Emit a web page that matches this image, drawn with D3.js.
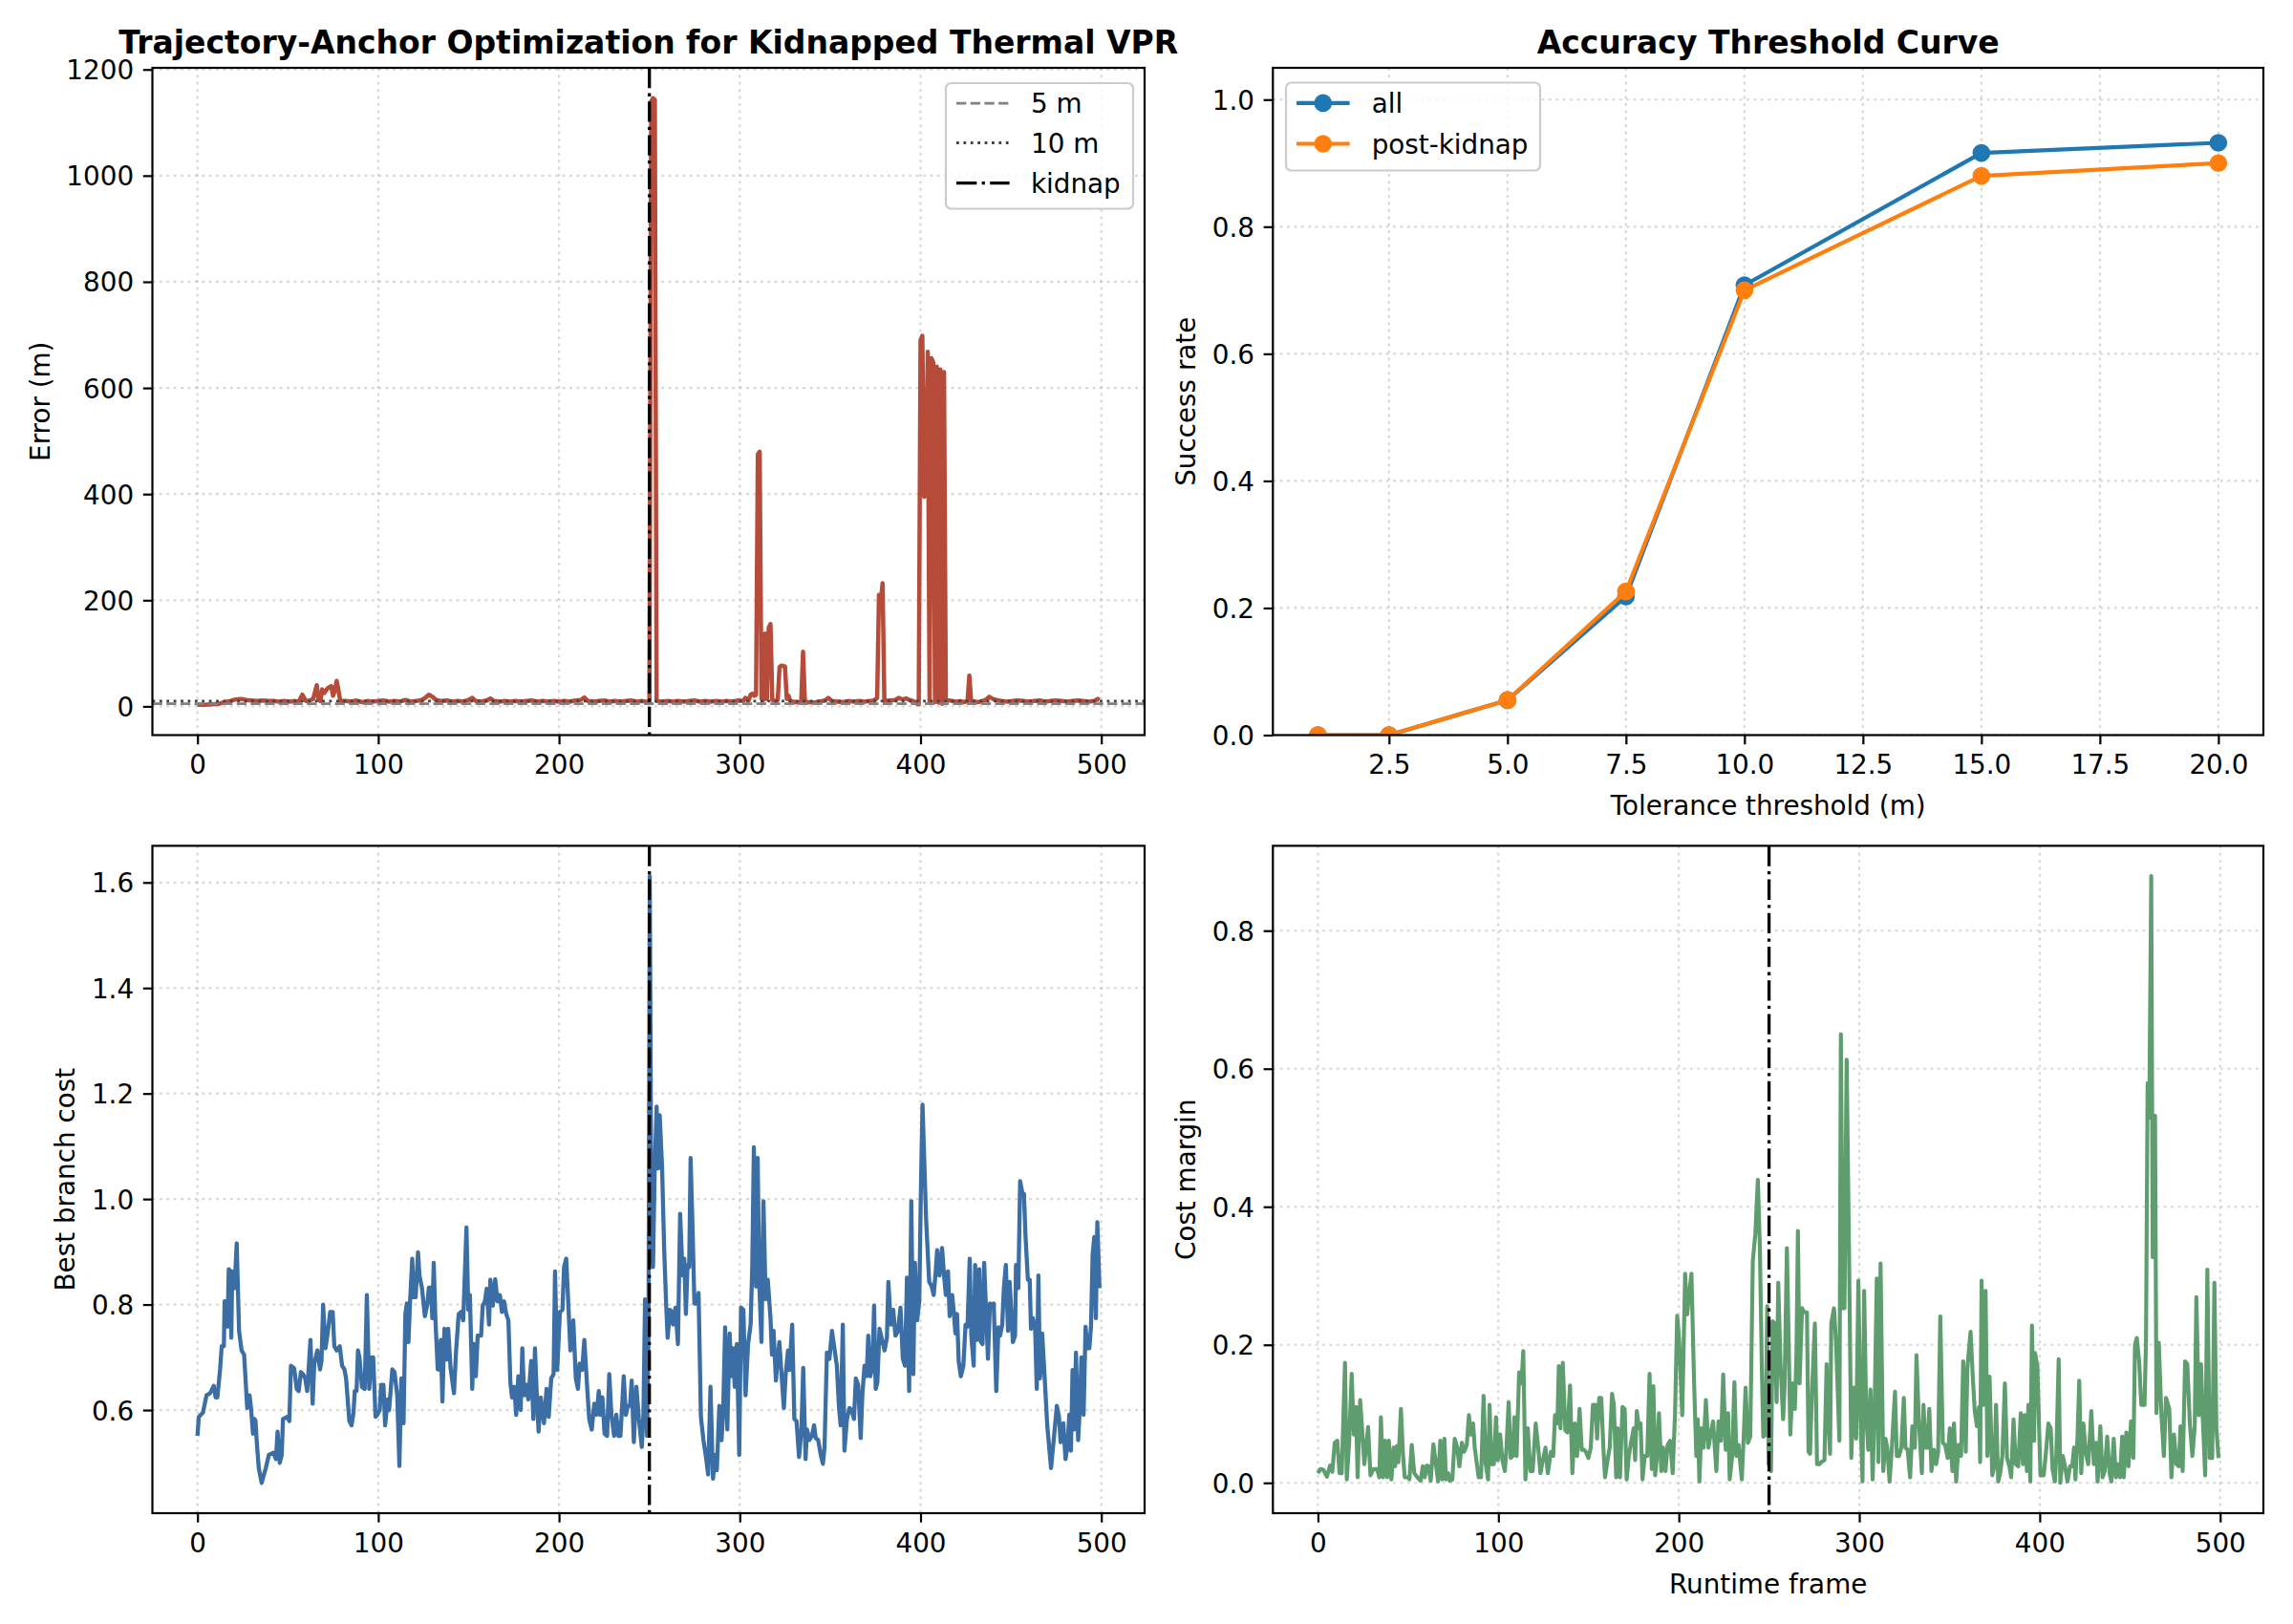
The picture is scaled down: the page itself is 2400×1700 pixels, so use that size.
<!DOCTYPE html>
<html><head><meta charset="utf-8">
<script src="https://cdn.jsdelivr.net/npm/d3@7"></script>
<style>body{margin:0;background:#fff} svg{display:block} text{font-family:"DejaVu Sans",sans-serif}</style>
</head><body><svg id="c" width="2400" height="1700"></svg>
<script>
// ---------------- DATA ----------------
const kidnapFrame = 250;
const frameTicks = [0,100,200,300,400,500];
const errorTicks = [0,200,400,600,800,1000,1200];
const costTicks = [0.6,0.8,1.0,1.2,1.4,1.6];
const marginTicks = [0.0,0.2,0.4,0.6,0.8];
const toleranceTicks = [2.5,5.0,7.5,10.0,12.5,15.0,17.5,20.0];
const successTicks = [0.0,0.2,0.4,0.6,0.8,1.0];
const thresholdLines = [5,10];

// Localization error (m) per frame: [frame, error]
const errorSeries = [[0,3],[4,3],[8,4],[12,5],[15,8],[18,10],[21,13],[24,14],[27,12],[30,11],[33,10],[36,11],[39,10],[42,10],[45,9],[48,10],[51,9],[54,10],[56,9],[58,22],[60,10],[62,11],[64,14],[66,40],[67,12],[68,10],[69,32],[70,25],[72,34],[74,38],[75,20],[76,30],[77,48],[78,30],[79,10],[82,10],[85,9],[88,11],[91,8],[94,10],[97,9],[100,10],[103,11],[106,9],[109,10],[112,9],[115,12],[118,9],[121,10],[124,12],[126,16],[128,22],[130,18],[132,12],[135,10],[138,11],[141,9],[144,10],[147,9],[150,12],[152,16],[154,10],[157,9],[160,11],[162,15],[164,10],[167,9],[170,10],[173,9],[176,10],[179,9],[182,10],[185,11],[188,9],[191,10],[194,9],[197,10],[200,9],[203,10],[206,9],[209,11],[212,12],[214,17],[216,10],[219,9],[222,10],[225,11],[228,9],[231,10],[234,9],[237,10],[240,11],[243,9],[246,10],[248,9],[250,8],[251,1140],[252,1146],[253,1143],[254,10],[257,9],[260,10],[263,9],[266,10],[269,9],[272,10],[275,11],[278,9],[281,10],[284,9],[287,10],[290,9],[293,10],[296,9],[299,11],[302,10],[303,16],[305,12],[306,22],[307,24],[308,20],[309,22],[310,475],[311,480],[312,15],[313,12],[314,137],[315,14],[316,148],[317,155],[318,12],[320,10],[321,12],[322,74],[323,77],[324,76],[325,75],[326,14],[327,20],[328,10],[331,8],[333,7],[334,10],[335,103],[336,9],[338,8],[341,7],[344,9],[347,11],[349,16],[351,10],[354,9],[357,8],[360,10],[363,9],[366,10],[369,9],[372,10],[374,11],[375,13],[376,16],[377,210],[378,196],[379,232],[380,10],[383,11],[386,12],[388,16],[390,13],[392,15],[394,12],[396,10],[398,5],[399,4],[400,690],[401,698],[402,395],[403,400],[404,668],[405,6],[406,656],[407,648],[408,8],[409,640],[410,7],[411,635],[412,5],[413,630],[414,12],[416,11],[418,10],[420,9],[422,10],[424,8],[426,10],[427,58],[428,10],[430,9],[432,8],[434,10],[436,12],[438,18],[440,14],[442,12],[445,10],[448,9],[451,10],[454,11],[457,10],[460,9],[463,10],[466,11],[469,9],[472,10],[475,11],[478,10],[481,9],[484,10],[487,11],[490,10],[493,9],[496,10],[498,14],[499,12]];

// Accuracy threshold curve
const tolerance = [1, 2.5, 5, 7.5, 10, 15, 20];
const successAll = [0.0, 0.0, 0.055, 0.218, 0.708, 0.916, 0.932];
const successPost = [0.0, 0.0, 0.055, 0.226, 0.700, 0.880, 0.900];

// Best branch cost per frame: [frame, cost]
const branchCost = [[0,0.551],[0.7,0.587],[3,0.595],[5,0.628],[7,0.632],[9,0.646],[10,0.624],[11,0.624],[12.5,0.677],[13.4,0.721],[14.6,0.721],[15,0.806],[16,0.806],[16.6,0.758],[17.3,0.867],[18.1,0.863],[18.7,0.737],[19.2,0.863],[20.5,0.831],[21.7,0.916],[23,0.75],[24.4,0.713],[25.8,0.705],[27.5,0.604],[28.8,0.628],[29.6,0.604],[30.7,0.555],[31.6,0.583],[32.1,0.579],[32.8,0.539],[33.9,0.49],[35.5,0.462],[37.8,0.49],[39.5,0.515],[42,0.519],[43.4,0.507],[44.3,0.559],[45.5,0.5],[46.6,0.515],[47.3,0.583],[49.6,0.587],[50.8,0.579],[51.7,0.684],[53.5,0.679],[54.9,0.64],[56,0.636],[57.2,0.672],[58.4,0.668],[59.6,0.66],[60.7,0.636],[62.5,0.733],[63.7,0.612],[64.6,0.688],[66.3,0.713],[67.8,0.677],[68.6,0.693],[69.5,0.8],[70.8,0.717],[72,0.745],[73.4,0.786],[74.8,0.786],[75.7,0.721],[77,0.713],[78.7,0.721],[80,0.684],[81.3,0.677],[82.2,0.66],[84,0.579],[85.2,0.571],[86.3,0.595],[87,0.636],[88,0.636],[88.8,0.713],[89.6,0.7],[91,0.644],[92.5,0.64],[93.7,0.818],[95,0.64],[96.3,0.7],[97.2,0.7],[98.5,0.587],[99.5,0.591],[100.8,0.6],[101.6,0.648],[102.9,0.648],[103.8,0.571],[105.2,0.62],[106,0.6],[107.8,0.677],[109,0.672],[110.5,0.628],[111.7,0.494],[112.8,0.66],[114,0.575],[115,0.782],[115.8,0.802],[116.7,0.729],[117.5,0.798],[118.8,0.887],[119.6,0.814],[120.7,0.814],[122,0.899],[122.8,0.855],[124.2,0.831],[125.8,0.778],[127.2,0.802],[128,0.832],[129.2,0.832],[129.9,0.774],[130.7,0.879],[131.6,0.774],[132.9,0.677],[133.8,0.677],[134.6,0.733],[135.5,0.616],[136.6,0.754],[137.8,0.696],[138.7,0.754],[140,0.68],[141.9,0.632],[143,0.709],[144.5,0.782],[145.8,0.786],[147,0.77],[148.8,0.946],[149.8,0.79],[150.7,0.818],[152,0.64],[152.8,0.725],[154,0.664],[155,0.741],[156.9,0.741],[157.8,0.798],[159,0.806],[160,0.83],[161.3,0.762],[162,0.847],[163.4,0.798],[164.7,0.848],[166,0.806],[167.3,0.818],[168.4,0.786],[169.6,0.806],[170.8,0.782],[172,0.77],[173.1,0.652],[174,0.624],[175.3,0.644],[176.3,0.591],[177.5,0.664],[178.8,0.6],[179.7,0.717],[180.7,0.628],[182,0.648],[183,0.62],[184.6,0.693],[185.8,0.583],[186.7,0.717],[187.8,0.62],[188.7,0.559],[189.9,0.624],[191.7,0.575],[193.1,0.64],[194.3,0.587],[195.7,0.66],[197,0.668],[197.8,0.863],[199,0.676],[200.5,0.786],[201.9,0.79],[202.8,0.871],[204,0.887],[205.4,0.782],[206.3,0.713],[207.9,0.77],[209.3,0.66],[210.5,0.64],[211.4,0.688],[212.8,0.676],[214,0.733],[215.5,0.648],[216.7,0.583],[218.1,0.563],[219.5,0.612],[220.8,0.591],[222,0.636],[222.9,0.591],[224,0.624],[225.2,0.555],[226.6,0.551],[227.8,0.668],[229,0.591],[230.5,0.551],[231.7,0.591],[232.8,0.551],[234,0.551],[235.8,0.664],[237,0.591],[238.1,0.608],[239.3,0.608],[240.2,0.656],[241.4,0.539],[242.8,0.644],[244.2,0.583],[245.8,0.53],[246.7,0.591],[247.6,0.81],[248.7,0.551],[249.5,0.741],[250.2,1.612],[251.1,0.952],[252,0.871],[252.9,1.05],[254,1.175],[254.8,1.058],[255.7,1.159],[257,1.062],[258.2,0.903],[259.3,0.798],[260.1,0.737],[261.4,0.79],[262.3,0.786],[263.1,0.762],[264.4,0.794],[265.8,0.725],[267,0.972],[268.4,0.855],[269.3,0.887],[270.2,0.782],[271.1,0.875],[272,0.871],[272.8,1.078],[274,0.928],[274.9,0.802],[276.4,0.802],[277.2,0.822],[278.5,0.587],[279.9,0.543],[281.3,0.511],[282.5,0.478],[283.8,0.644],[285.2,0.47],[286.4,0.515],[287.3,0.486],[288.7,0.608],[289.9,0.543],[290.8,0.595],[291.9,0.757],[293.1,0.563],[294.4,0.745],[295.4,0.664],[296.3,0.717],[297.2,0.644],[298.4,0.725],[299.7,0.515],[300.7,0.794],[302,0.79],[303.2,0.628],[304.6,0.725],[306,0.762],[306.9,0.871],[307.8,1.098],[309,0.834],[309.9,1.078],[310.8,0.839],[312,0.729],[313.1,0.996],[314.3,0.81],[315.5,0.847],[317,0.774],[317.8,0.705],[318.7,0.75],[320,0.656],[321,0.697],[321.9,0.729],[323.1,0.668],[324.4,0.604],[325.4,0.668],[326.7,0.713],[327.5,0.676],[329,0.762],[330.2,0.583],[331.4,0.579],[332.8,0.511],[334.1,0.563],[335.1,0.68],[336.4,0.507],[337.2,0.563],[338.5,0.543],[339.9,0.551],[341.1,0.571],[342,0.547],[343.4,0.543],[344.8,0.515],[346,0.498],[346.9,0.53],[348.2,0.709],[349.6,0.697],[351,0.75],[352.2,0.721],[353.7,0.684],[354.9,0.604],[355.8,0.571],[357,0.762],[357.9,0.523],[359.3,0.583],[360.7,0.604],[361.9,0.6],[363.2,0.583],[364.2,0.66],[365.5,0.648],[366.9,0.547],[367.8,0.628],[369,0.684],[370.2,0.664],[371.1,0.741],[372.2,0.664],[373.4,0.68],[374.3,0.798],[375.2,0.64],[376.1,0.652],[377.3,0.754],[378.7,0.733],[380.1,0.713],[381.4,0.737],[382.2,0.843],[383.6,0.762],[384.9,0.79],[386.1,0.741],[387.5,0.75],[388.9,0.794],[390.2,0.697],[391.4,0.684],[392.5,0.851],[393.7,0.636],[394.9,0.996],[396,0.668],[396.9,0.879],[398.1,0.77],[399.3,0.806],[400.2,1.017],[401.1,1.179],[403.1,0.96],[404.8,0.843],[406.1,0.835],[407.3,0.818],[408.4,0.863],[409.2,0.903],[410.5,0.855],[411.9,0.907],[413.1,0.851],[414,0.818],[415.2,0.863],[416.1,0.778],[417.5,0.818],[418.4,0.786],[419.3,0.745],[420.2,0.782],[421.1,0.693],[422.3,0.664],[423.7,0.684],[424.9,0.762],[426,0.758],[427.2,0.887],[428.1,0.741],[429.4,0.684],[430.2,0.875],[431.3,0.733],[432.5,0.867],[433.4,0.729],[434.3,0.725],[435.2,0.879],[436.4,0.774],[437.3,0.697],[438.4,0.802],[439.6,0.798],[440.5,0.802],[441.9,0.636],[443.1,0.757],[444,0.741],[445.2,0.762],[446.1,0.831],[447.2,0.875],[448.4,0.75],[449.3,0.843],[451.1,0.729],[452.3,0.741],[452.8,0.875],[454.1,0.831],[455.1,1.034],[456.4,1.01],[457.2,1.01],[458.1,0.928],[459.4,0.847],[460.4,0.847],[461.1,0.754],[462.2,0.774],[463.4,0.754],[464.3,0.64],[465.2,0.855],[466.1,0.66],[467.3,0.745],[468.7,0.66],[470.1,0.571],[472.2,0.49],[474,0.555],[475.4,0.608],[476.6,0.587],[477.5,0.539],[479,0.575],[480.2,0.507],[481.4,0.535],[482.3,0.591],[483.2,0.523],[484.1,0.676],[485,0.563],[486,0.709],[487.2,0.543],[488.1,0.604],[489,0.7],[490.2,0.591],[491.3,0.758],[492.2,0.717],[493.4,0.717],[494.3,0.758],[495.2,0.895],[496.1,0.928],[497,0.774],[497.8,0.956],[499,0.831]];

// Cost margin per frame: [frame, margin]
const costMargin = [[0,0.014],[1.4,0.02],[3,0.019],[5,0.009],[6.7,0.025],[8,0.016],[9.3,0.058],[10.7,0.061],[12,0.014],[13.2,0.014],[15,0.174],[16,0.005],[17.3,0.058],[18.7,0.158],[19.9,0.07],[21.1,0.11],[22,0.008],[23.4,0.12],[24.7,0.07],[25.7,0.027],[27,0.058],[27.8,0.081],[29.1,0.011],[30.8,0.02],[32.8,0.02],[34,0.008],[34.9,0.095],[36.1,0.008],[37.2,0.061],[38.4,0.008],[39.3,0.061],[40.7,0.005],[42,0.051],[42.8,0.024],[43.7,0.053],[44.6,0.03],[46,0.107],[47.2,0.039],[48.1,0.008],[49.9,0.008],[50.7,0.005],[52,0.055],[53.4,0.014],[55.1,0.008],[56.9,0.003],[58.1,0.024],[59.2,0.008],[60.4,0.025],[61.3,0.024],[62.5,0.003],[64,0.056],[65.4,0.027],[66.6,0.002],[67.8,0.061],[68.9,0.005],[70.1,0.064],[71,0.005],[72.2,0.014],[73.1,0.003],[74.5,0.005],[75.8,0.064],[77.2,0.051],[78.4,0.024],[79.8,0.058],[81,0.045],[82.5,0.055],[83.7,0.098],[84.7,0.07],[86,0.086],[86.9,0.051],[88.1,0.027],[89.1,0.008],[90.4,0.008],[91.8,0.126],[93,0.027],[94.3,0.005],[95.1,0.113],[96.2,0.027],[97.5,0.027],[98.7,0.095],[99.7,0.033],[101,0.07],[102.2,0.033],[103.6,0.017],[104.5,0.051],[105.7,0.117],[106.8,0.036],[108,0.039],[108.9,0.095],[110.1,0.039],[111.5,0.16],[112.8,0.144],[113.8,0.191],[115,0.005],[116.3,0.079],[117.7,0.017],[119,0.017],[120.7,0.086],[122.1,0.051],[123.3,0.014],[124.7,0.033],[126.1,0.051],[127.4,0.014],[129.1,0.045],[130.4,0.039],[131.4,0.098],[132.7,0.086],[133.5,0.169],[134.4,0.079],[135.7,0.174],[137.1,0.076],[138.3,0.073],[139.7,0.141],[141,0.014],[142.4,0.086],[143.6,0.039],[145,0.107],[146.2,0.048],[147.3,0.048],[148.5,0.045],[149.9,0.036],[151.2,0.051],[152.4,0.113],[153.8,0.113],[154.7,0.064],[155.9,0.123],[157,0.123],[158.2,0.051],[159.1,0.008],[160.5,0.033],[161.7,0.051],[163,0.129],[164,0.113],[165.3,0.008],[166.1,0.079],[167.4,0.008],[168.8,0.11],[170,0.107],[171.1,0.005],[172.3,0.039],[173.5,0.058],[175,0.079],[175.8,0.033],[176.7,0.104],[178,0.079],[178.8,0.086],[179.9,0.005],[181.1,0.039],[182.5,0.039],[183.8,0.158],[185,0.02],[185.9,0.14],[186.9,0.011],[187.8,0.036],[189,0.101],[190.3,0.017],[191.3,0.051],[192.6,0.017],[193.8,0.055],[195.2,0.061],[196.6,0.014],[197.9,0.101],[199.1,0.242],[200.2,0.206],[201.9,0.098],[203.5,0.303],[204.6,0.244],[205.8,0.275],[207,0.303],[208.4,0.151],[209.7,0.039],[210.5,0.092],[211.4,0.002],[212.5,0.079],[213.7,0.051],[215,0.12],[216.4,0.051],[217.6,0.07],[219,0.089],[220.8,0.017],[222,0.089],[223.4,0.061],[224.6,0.157],[226,0.048],[227.3,0.101],[228.2,0.005],[229.6,0.039],[230.8,0.146],[231.9,0.039],[233.1,0.055],[234.9,0.005],[236.1,0.076],[237,0.138],[238.3,0.058],[239.6,0.067],[241,0.321],[242.4,0.361],[243.8,0.439],[244.9,0.343],[246,0.169],[246.8,0.067],[248.1,0.07],[249,0.256],[249.8,0.027],[251.1,0.017],[252,0.234],[253,0.231],[254.2,0.117],[255.1,0.29],[256.4,0.169],[257.8,0.092],[258.6,0.138],[259.9,0.34],[261,0.188],[261.8,0.07],[263,0.144],[264.3,0.107],[265.2,0.188],[266,0.365],[266.9,0.144],[268.3,0.253],[269.6,0.247],[271,0.247],[271.9,0.045],[272.7,0.042],[273.9,0.138],[275.4,0.231],[276.6,0.027],[278,0.027],[278.9,0.03],[280.7,0.033],[281.9,0.172],[282.8,0.098],[283.8,0.042],[284.5,0.231],[286,0.253],[287.2,0.2],[289,0.061],[289.8,0.65],[290.9,0.253],[291.8,0.253],[293,0.613],[294.4,0.318],[295.6,0.036],[296.9,0.138],[298.3,0.064],[299.5,0.293],[300.6,0.107],[301.8,0.002],[302.7,0.278],[303.9,0.095],[305,0.048],[306.2,0.135],[307.4,0.005],[308.5,0.107],[309.7,0.296],[310.6,0.03],[311.8,0.318],[313.3,0.017],[314.5,0.064],[315.5,0.051],[316.8,0.002],[318,0.048],[319.8,0.132],[320.8,0.039],[322,0.039],[323.3,0.051],[324.7,0.123],[325.6,0.051],[326.8,0.048],[328.2,0.008],[329.4,0.082],[330.8,0.051],[331.7,0.185],[333,0.092],[334.7,0.014],[335.6,0.113],[336.7,0.051],[337.7,0.051],[338.8,0.107],[340,0.017],[341.4,0.048],[342.6,0.027],[343.7,0.045],[344.9,0.241],[346.3,0.058],[347.6,0.055],[349,0.036],[350.2,0.079],[351.6,0.017],[352.5,0.086],[353.7,0.002],[355,0.055],[356.4,0.039],[357.6,0.176],[359,0.045],[359.9,0.166],[361.7,0.219],[362.9,0.154],[364,0.104],[365.2,0.082],[366.4,0.11],[367,0.03],[367.8,0.293],[368.7,0.113],[370,0.278],[371,0.039],[372.2,0.154],[373.7,0.011],[374.9,0.024],[375.8,0.113],[377,0.002],[378.1,0.014],[379.3,0.039],[380.7,0.144],[381.9,0.036],[383.2,0.024],[384.2,0.008],[385.5,0.092],[386.7,0.027],[388.1,0.024],[389.5,0.101],[390.7,0.027],[391.6,0.098],[392.9,0.017],[393.7,0.113],[394.8,0.002],[395.7,0.228],[396.9,0.061],[397.4,0.188],[398.7,0.169],[400.4,0.011],[402.2,0.011],[403.6,0.048],[404.8,0.086],[406.1,0.079],[407.1,0.02],[408.4,0.002],[409.2,0.039],[410.5,0.179],[411.4,0.0],[412.8,0.039],[414,0.024],[415.4,0.002],[416.8,0.024],[418,0.024],[419,0.051],[419.8,0.005],[421,0.07],[421.9,0.148],[423,0.014],[424.2,0.086],[425.6,0.042],[426.9,0.027],[428.6,0.104],[430,0.027],[431.3,0.058],[432.1,0.002],[433.6,0.082],[434.8,0.008],[436,0.017],[437.4,0.067],[438.7,0.014],[439.7,0.002],[441,0.064],[442.2,0.008],[443.3,0.027],[444.5,0.008],[445.7,0.067],[446.6,0.008],[448,0.073],[449.2,0.024],[450.6,0.089],[451.9,0.036],[452.8,0.2],[453.8,0.21],[455.1,0.176],[456.3,0.113],[458.1,0.113],[458.9,0.206],[459.8,0.579],[460.7,0.529],[461.8,0.879],[462.6,0.327],[463.9,0.532],[464.7,0.101],[466,0.203],[467.4,0.101],[468.8,0.039],[470,0.123],[471.8,0.107],[473,0.008],[474.4,0.07],[475.8,0.027],[477.1,0.024],[478,0.082],[479.2,0.017],[480.6,0.176],[481.8,0.172],[483.2,0.086],[484.6,0.039],[485.9,0.082],[486.8,0.269],[488.2,0.098],[489.4,0.172],[490.3,0.098],[491.7,0.011],[492.9,0.309],[494.2,0.036],[495.6,0.036],[496.8,0.29],[497.9,0.079],[499.1,0.036]];

// ---------------- DRAWING ----------------
const svg = d3.select('#c');
const FS = 27.8;            // 10pt at 200 dpi
const TICK = 9.7, PAD = 9.7;
const SPINE = 2.2;

const boxes = {
  tl: {x0:159.5, x1:1198, y0:71, y1:769.5},
  tr: {x0:1332.3, x1:2369, y0:71, y1:769.5},
  bl: {x0:159.5, x1:1198, y0:885.4, y1:1584},
  br: {x0:1332.3, x1:2369, y0:885.4, y1:1584}
};

// matplotlib-style 5% autoscale margins
function padded(vals) {
  const [lo, hi] = d3.extent(vals);
  const m = (hi - lo) * 0.05;
  return [lo - m, hi + m];
}

function makePanel(id, box, xd, yd, xt, yt) {
  const x = d3.scaleLinear().domain(xd).range([box.x0, box.x1]);
  const y = d3.scaleLinear().domain(yd).range([box.y1, box.y0]);
  const g = svg.append('g').attr('id', id);
  g.append('clipPath').attr('id', id + 'clip').append('rect')
    .attr('x', box.x0).attr('y', box.y0).attr('width', box.x1 - box.x0).attr('height', box.y1 - box.y0);
  const grid = g.append('g').attr('stroke', '#b0b0b0').attr('stroke-opacity', 0.5)
    .attr('stroke-width', 2.2).attr('stroke-dasharray', '2.8,4.6').attr('fill', 'none');
  xt.forEach(v => grid.append('line').attr('x1', x(v)).attr('x2', x(v)).attr('y1', box.y0).attr('y2', box.y1));
  yt.forEach(v => grid.append('line').attr('y1', y(v)).attr('y2', y(v)).attr('x1', box.x0).attr('x2', box.x1));
  const plot = g.append('g').attr('clip-path', `url(#${id}clip)`);
  return {x, y, g, plot, box, xt, yt};
}

function finish(p, xf, yf) {
  const b = p.box;
  const xa = d3.axisBottom(p.x).tickValues(p.xt).tickFormat(xf).tickSize(TICK).tickPadding(PAD).tickSizeOuter(0);
  const ya = d3.axisLeft(p.y).tickValues(p.yt).tickFormat(yf).tickSize(TICK).tickPadding(PAD).tickSizeOuter(0);
  const gx = p.g.append('g').attr('transform', `translate(0,${b.y1})`).call(xa);
  const gy = p.g.append('g').attr('transform', `translate(${b.x0},0)`).call(ya);
  [gx, gy].forEach(a => {
    a.select('.domain').remove();
    a.attr('font-family', '"DejaVu Sans", sans-serif').attr('font-size', FS);
    a.selectAll('line').attr('stroke', '#000').attr('stroke-width', SPINE);
    a.selectAll('text').attr('fill', '#000');
  });
  gx.selectAll('text').attr('dy', '0.76em');
  gy.selectAll('text').attr('dy', '0.36em');
  p.g.append('rect').attr('x', b.x0).attr('y', b.y0).attr('width', b.x1 - b.x0).attr('height', b.y1 - b.y0)
    .attr('fill', 'none').attr('stroke', '#000').attr('stroke-width', SPINE);
}

function ylabel(text, x, box) {
  const cy = (box.y0 + box.y1) / 2;
  svg.append('text').attr('transform', `translate(${x},${cy}) rotate(-90)`)
    .attr('text-anchor', 'middle').attr('font-size', FS).attr('fill', '#000').text(text);
}
function xlabel(text, y, box) {
  svg.append('text').attr('x', (box.x0 + box.x1) / 2).attr('y', y)
    .attr('text-anchor', 'middle').attr('font-size', FS).attr('fill', '#000').text(text);
}
function title(text, box) {
  svg.append('text').attr('x', (box.x0 + box.x1) / 2).attr('y', 55.5)
    .attr('text-anchor', 'middle').attr('font-size', 33).attr('font-weight', 'bold').attr('fill', '#000').text(text);
}

function kidnapLine(p) {
  p.plot.append('line').attr('x1', p.x(kidnapFrame)).attr('x2', p.x(kidnapFrame))
    .attr('y1', p.box.y0).attr('y2', p.box.y1)
    .attr('stroke', '#000').attr('stroke-width', 3.3).attr('stroke-dasharray', '21.3,5.3,3.3,5.3');
}

const frameDomain = [-24.95, 523.95];

// ---- Top-left: error
const pTL = makePanel('tl', boxes.tl, frameDomain, padded(errorSeries.map(d => d[1])), frameTicks, errorTicks);
pTL.plot.append('path').datum(errorSeries)
  .attr('d', d3.line().x(d => pTL.x(d[0])).y(d => pTL.y(d[1])))
  .attr('fill', 'none').attr('stroke', '#b64b3a').attr('stroke-width', 4.5).attr('stroke-linejoin', 'round');
const thrStyles = [{c:'#808080', dash:'10.3,4.4'}, {c:'#444444', dash:'2.8,4.6'}];
thresholdLines.forEach((t, i) => {
  pTL.plot.append('line').attr('x1', pTL.box.x0).attr('x2', pTL.box.x1).attr('y1', pTL.y(t)).attr('y2', pTL.y(t))
    .attr('stroke', thrStyles[i].c).attr('stroke-width', 2.78).attr('stroke-dasharray', thrStyles[i].dash);
});
kidnapLine(pTL);
finish(pTL, d3.format('d'), d3.format('d'));
title('Trajectory-Anchor Optimization for Kidnapped Thermal VPR', boxes.tl);
ylabel('Error (m)', 51.7, boxes.tl);

// legend TL
{
  const lg = svg.append('g');
  lg.append('rect').attr('x', 990).attr('y', 87).attr('width', 196).attr('height', 131.5).attr('rx', 5.6)
    .attr('fill', '#fff').attr('fill-opacity', 0.8).attr('stroke', '#cccccc').attr('stroke-width', 2.2);
  const items = [
    {label: '5 m', c: '#808080', w: 2.78, dash: '10.3,4.4', y: 108.2},
    {label: '10 m', c: '#444444', w: 2.78, dash: '2.8,4.6', y: 149.5},
    {label: 'kidnap', c: '#000', w: 3.3, dash: '21.3,5.3,3.3,5.3', y: 191.7}
  ];
  items.forEach(it => {
    lg.append('line').attr('x1', 1001).attr('x2', 1056.6).attr('y1', it.y).attr('y2', it.y)
      .attr('stroke', it.c).attr('stroke-width', it.w).attr('stroke-dasharray', it.dash);
    lg.append('text').attr('x', 1079).attr('y', it.y).attr('dy', '0.36em').attr('font-size', FS).text(it.label);
  });
}

// ---- Top-right: accuracy threshold curve
const pTR = makePanel('tr', boxes.tr, [0.05, 20.95], [0, 1.05], toleranceTicks, successTicks);
const curves = [{vals: successAll, c: '#1f77b4', name: 'all'}, {vals: successPost, c: '#ff7f0e', name: 'post-kidnap'}];
const MR = 8;
curves.forEach(cv => {
  const pts = tolerance.map((t, i) => [t, cv.vals[i]]);
  pTR.plot.append('path').datum(pts)
    .attr('d', d3.line().x(d => pTR.x(d[0])).y(d => pTR.y(d[1])))
    .attr('fill', 'none').attr('stroke', cv.c).attr('stroke-width', 4.17).attr('stroke-linejoin', 'round');
  pTR.plot.selectAll(null).data(pts).enter().append('circle')
    .attr('cx', d => pTR.x(d[0])).attr('cy', d => pTR.y(d[1])).attr('r', MR)
    .attr('fill', cv.c).attr('stroke', cv.c).attr('stroke-width', 2.6);
});
finish(pTR, d3.format('.1f'), d3.format('.1f'));
title('Accuracy Threshold Curve', boxes.tr);
ylabel('Success rate', 1251, boxes.tr);
xlabel('Tolerance threshold (m)', 853.4, boxes.tr);
{
  const lg = svg.append('g');
  lg.append('rect').attr('x', 1346).attr('y', 86.5).attr('width', 266).attr('height', 92).attr('rx', 5.6)
    .attr('fill', '#fff').attr('fill-opacity', 0.8).attr('stroke', '#cccccc').attr('stroke-width', 2.2);
  const ys = [107.9, 150.5];
  curves.forEach((cv, i) => {
    lg.append('line').attr('x1', 1357).attr('x2', 1412.6).attr('y1', ys[i]).attr('y2', ys[i])
      .attr('stroke', cv.c).attr('stroke-width', 4.17);
    lg.append('circle').attr('cx', 1384.8).attr('cy', ys[i]).attr('r', MR).attr('fill', cv.c)
      .attr('stroke', cv.c).attr('stroke-width', 2.6);
    lg.append('text').attr('x', 1435.7).attr('y', ys[i]).attr('dy', '0.36em').attr('font-size', FS).text(cv.name);
  });
}

// ---- Bottom-left: best branch cost
const pBL = makePanel('bl', boxes.bl, frameDomain, padded(branchCost.map(d => d[1])), frameTicks, costTicks);
pBL.plot.append('path').datum(branchCost)
  .attr('d', d3.line().x(d => pBL.x(d[0])).y(d => pBL.y(d[1])))
  .attr('fill', 'none').attr('stroke', '#3a6ea5').attr('stroke-width', 4.3).attr('stroke-linejoin', 'round');
kidnapLine(pBL);
finish(pBL, d3.format('d'), d3.format('.1f'));
ylabel('Best branch cost', 78.2, boxes.bl);

// ---- Bottom-right: cost margin
const pBR = makePanel('br', boxes.br, frameDomain, padded(costMargin.map(d => d[1])), frameTicks, marginTicks);
pBR.plot.append('path').datum(costMargin)
  .attr('d', d3.line().x(d => pBR.x(d[0])).y(d => pBR.y(d[1])))
  .attr('fill', 'none').attr('stroke', '#5e9e6e').attr('stroke-width', 4.17).attr('stroke-linejoin', 'round');
kidnapLine(pBR);
finish(pBR, d3.format('d'), d3.format('.1f'));
ylabel('Cost margin', 1251, boxes.br);
xlabel('Runtime frame', 1668, boxes.br);
</script></body></html>
